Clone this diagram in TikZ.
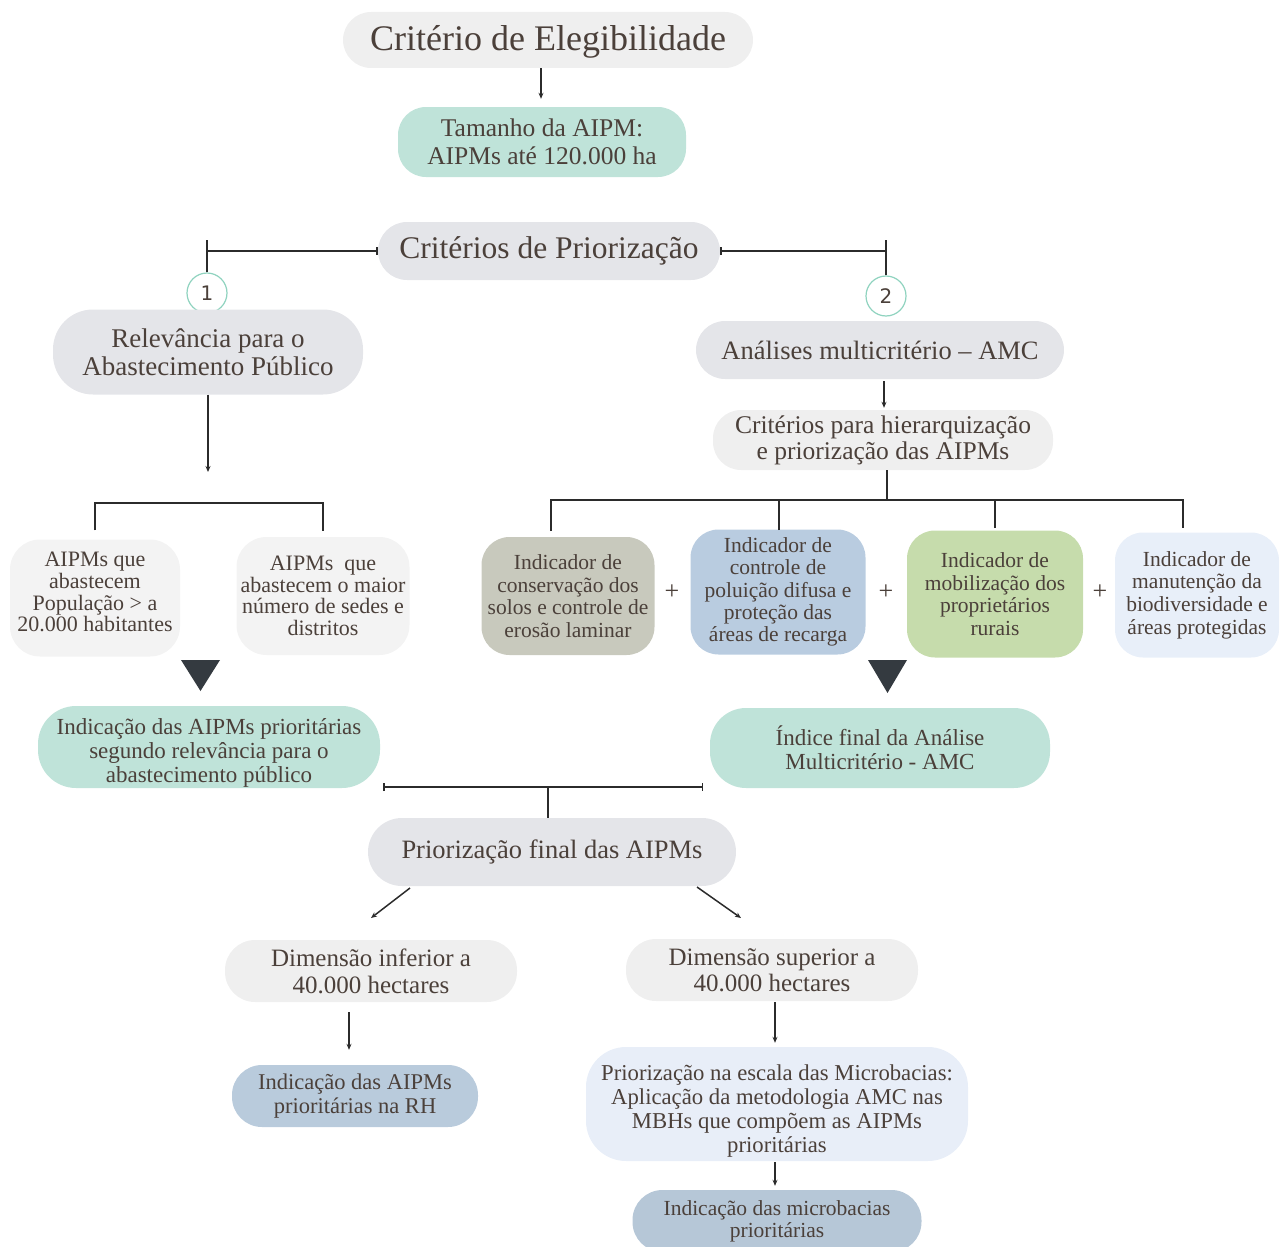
\documentclass[tikz,border=0pt]{standalone}
\usepackage{fontspec}
\setmainfont{Liberation Serif}
\newfontfamily\numfont{DejaVu Sans}
\usetikzlibrary{arrows.meta,calc}
\definecolor{tc}{HTML}{4B403A}
\definecolor{lc}{HTML}{2B2B2B}
\definecolor{gA}{HTML}{EFEFEF}
\definecolor{gB}{HTML}{E4E5E9}
\definecolor{gC}{HTML}{F3F3F3}
\definecolor{teal}{HTML}{BFE3D9}
\definecolor{ind1}{HTML}{C8C9BD}
\definecolor{ind2}{HTML}{B9CCE0}
\definecolor{ind3}{HTML}{C6DCAC}
\definecolor{ind4}{HTML}{E8EFF9}
\definecolor{blu}{HTML}{B9CBDC}
\definecolor{lblu}{HTML}{E8EEF8}
\definecolor{tri}{HTML}{343A40}
\definecolor{circ}{HTML}{8FD3BF}
\newcommand{\fs}[2]{\fontsize{#1}{#2}\selectfont}
\begin{document}
\begin{tikzpicture}[x=1pt,y=-1pt,
  box/.style={text=tc, align=center, inner sep=0pt},
  ln/.style={draw=lc, line width=1.5pt},
  arr/.style={ln, -{Stealth[length=6pt,width=5pt]}},
  trimark/.style={fill=tri}]
\useasboundingbox (0,0) rectangle (1280,1247);
% top
\node[box, fill=gA, minimum width=410, minimum height=56, rounded corners=28, font=\fs{36}{40}] (eleg) at (548,40) {\rule{0pt}{28pt}Critério de Elegibilidade};
\node[box, fill=teal, minimum width=288, minimum height=70, rounded corners=28, font=\fs{25.5}{28}] (tam) at (542,142) {Tamanho da AIPM:\\AIPMs até 120.000 ha};
\draw[arr] (eleg.south -| 541,0) -- ($(tam.north -| 541,0)+(0,-8)$);
\node[box, fill=gB, minimum width=342, minimum height=58, rounded corners=29, font=\fs{31.5}{34}] (prio) at (549,251) {Critérios de Priorização};
\node[draw=circ, line width=1.2pt, circle, minimum size=40, inner sep=0pt, fill=white, text=tc, font=\numfont\fs{20}{22}] (c1) at (207,293) {1};
\node[draw=circ, line width=1.2pt, circle, minimum size=40, inner sep=0pt, fill=white, text=tc, font=\numfont\fs{20}{22}] (c2) at (886,296) {2};
\coordinate (lt) at (0,240);
\draw[ln, {Bar[width=8pt]}-] (prio.west) -- (prio.west -| c1);
\draw[ln] (c1.north) -- (c1.north |- lt);
\draw[ln, {Bar[width=8pt]}-] (prio.east) -- (prio.east -| c2);
\draw[ln] (c2.north) -- (c2.north |- lt);
% left branch
\node[box, fill=gB, minimum width=310, minimum height=85, rounded corners=40, font=\fs{27}{28}] (rel) at (208,352) {Relevância para o\\Abastecimento Público};
\coordinate (relEnd) at (208,472);
\draw[arr] (rel.south) -- (relEnd);
\node[box, fill=gC, minimum width=170, minimum height=117, rounded corners=30, font=\fs{22}{21.7}] (pop) at (95,598) {AIPMs que\\abastecem\\População > a\\20.000 habitantes\rule[-12pt]{0pt}{0pt}};
\node[box, fill=gC, minimum width=173, minimum height=118, rounded corners=30, font=\fs{22}{21.5}] (sed) at (323,596) {AIPMs\ \ que\\abastecem o maior\\número de sedes e\\distritos};
\coordinate (brA) at (208,503);
\draw[ln] ($(pop.north)+(0,-9)$) |- (brA) -| ($(sed.north)+(0,-6)$);
\fill[trimark] (181,660) -- (220,660) -- (200.5,691) -- cycle;
\node[box, fill=teal, minimum width=342, minimum height=82, rounded corners=38, font=\fs{23}{24}] (indA) at (209,747) {\rule{0pt}{28pt}Indicação das AIPMs prioritárias\\segundo relevância para o\\abastecimento público};
% right branch
\node[box, fill=gB, minimum width=368, minimum height=58, rounded corners=29, font=\fs{26.5}{28}] (amc) at (880,350) {Análises multicritério -- AMC};
\node[box, fill=gA, minimum width=340, minimum height=60, rounded corners=28, font=\fs{25.5}{26}] (hier) at (883,440) {Critérios para hierarquização\\e priorização das AIPMs};
\draw[arr] ($(amc.south -| 884,0)+(0,2)$) -- ($(hier.north -| 884,0)+(0,-2)$);
\node[box, fill=ind1, minimum width=173, minimum height=118, rounded corners=28, font=\fs{21.5}{22.7}] (i1) at (568,596) {Indicador de\\conservação dos\\solos e controle de\\erosão laminar};
\node[box, fill=ind2, minimum width=175, minimum height=125, rounded corners=28, font=\fs{21.5}{22.2}] (i2) at (778,592) {Indicador de\\controle de\\poluição difusa e\\proteção das\\áreas de recarga};
\node[box, fill=ind3, minimum width=176, minimum height=127, rounded corners=28, font=\fs{21.5}{22.5}] (i3) at (995,594) {Indicador de\\mobilização dos\\proprietários\\rurais};
\node[box, fill=ind4, minimum width=164, minimum height=125, rounded corners=28, font=\fs{21.5}{22.7}] (i4) at (1197,595) {Indicador de\\manutenção da\\biodiversidade e\\áreas protegidas};
\node[box, font=\fs{26}{26}] (p1) at (672,592) {+};
\node[box, font=\fs{26}{26}] (p2) at (886,592) {+};
\node[box, font=\fs{26}{26}] (p3) at (1100,592) {+};
\coordinate (hb) at (887,500);
\coordinate (d1) at (551,531);
\coordinate (d2) at (779,530);
\coordinate (d3) at (995,528);
\coordinate (d4) at (1183,528);
\draw[ln] (hier.south -| hb) -- (hb);
\draw[ln] (d1) |- (hb) -| (d4);
\draw[ln] (d2) -- (d2 |- hb);
\draw[ln] (d3) -- (d3 |- hb);
\fill[trimark] (868,660) -- (907,660) -- (887.5,693) -- cycle;
\node[box, fill=teal, minimum width=340, minimum height=80, rounded corners=36, font=\fs{23}{24}] (indB) at (880,748) {Índice final da Análise\\Multicritério - AMC};
% merge
\coordinate (b1) at (383,787);
\coordinate (b2) at (703,787);
\draw[ln, {Bar[width=8pt]}-{Bar[width=8pt]}] (b1) -- (b2);
\node[box, fill=gB, minimum width=368, minimum height=68, rounded corners=34, font=\fs{26.5}{28}] (fin) at (552,852) {Priorização final das AIPMs};
\draw[ln] (fin.north -| 548,0) -- (b1 -| 548,0);
\node[box, fill=gA, minimum width=292, minimum height=62, rounded corners=30, font=\fs{25}{27}] (dinf) at (371,971) {Dimensão inferior a\\40.000 hectares};
\node[box, fill=gA, minimum width=292, minimum height=62, rounded corners=30, font=\fs{25}{26}] (dsup) at (772,970) {Dimensão superior a\\40.000 hectares};
\coordinate (fa1) at (410,888);
\coordinate (fa2) at (371,918);
\coordinate (fb1) at (697,887);
\coordinate (fb2) at (741,918);
\draw[arr] (fa1) -- (fa2);
\draw[arr] (fb1) -- (fb2);
\node[box, fill=blu, minimum width=246, minimum height=62, rounded corners=30, font=\fs{22.5}{24}] (rh) at (355,1096) {Indicação das AIPMs\\prioritárias na RH};
\draw[arr] ($(dinf.south -| 349,0)+(0,10)$) -- ($(rh.north -| 349,0)+(0,-15)$);
\node[box, fill=lblu, minimum width=382, minimum height=114, rounded corners=40, font=\fs{22.7}{24}] (mb) at (777,1104) {\rule{0pt}{30pt}Priorização na escala das Microbacias:\\Aplicação da metodologia AMC nas\\MBHs que compõem as AIPMs\\prioritárias};
\draw[arr] ($(dsup.south -| 775,0)+(0,1)$) -- ($(mb.north -| 775,0)+(0,-4)$);
\node[box, fill=blu!95!gray, minimum width=289, minimum height=62, rounded corners=30, font=\fs{21.5}{22}] (mic) at (777,1221) {Indicação das microbacias\\prioritárias};
\draw[arr] ($(mb.south -| 775,0)+(0,1)$) -- ($(mic.north -| 775,0)+(0,-4)$);
\end{tikzpicture}
\end{document}
